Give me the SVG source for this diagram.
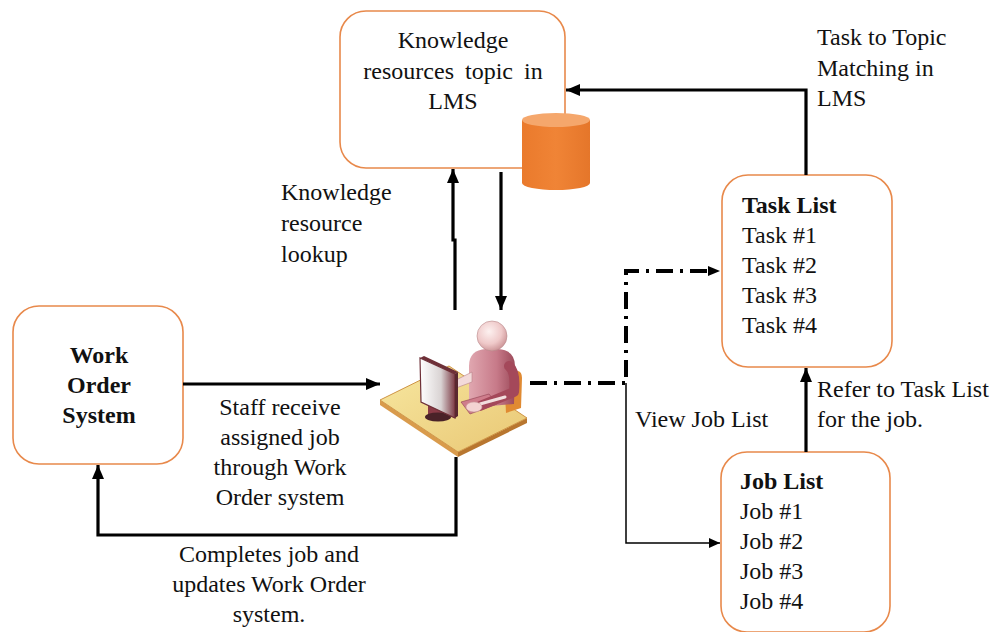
<svg xmlns="http://www.w3.org/2000/svg" width="1003" height="632" viewBox="0 0 1003 632">
  <style>
    .box { fill: #ffffff; stroke: #e8894b; stroke-width: 1.6; }
    .t { font-family: "Liberation Serif", "Times New Roman", serif; font-size: 24px; fill: #111111; }
    .b { font-weight: bold; }
    .mid { text-anchor: middle; }
    .conn { fill: none; stroke: #000000; stroke-width: 3.2; }
    .thin { fill: none; stroke: #000000; stroke-width: 1.5; }
    .dashdot { fill: none; stroke: #000000; stroke-width: 4; stroke-dasharray: 17 7 3 7; }
  </style>
  <defs>
    <marker id="arrow" markerUnits="userSpaceOnUse" markerWidth="14" markerHeight="12" viewBox="0 0 14 12" refX="14" refY="6" orient="auto">
      <path d="M0,0 L14,6 L0,12 Z" fill="#000000"/>
    </marker>
    <marker id="arrowSmall" markerUnits="userSpaceOnUse" markerWidth="11" markerHeight="10" viewBox="0 0 11 10" refX="11" refY="5" orient="auto">
      <path d="M0,0 L11,5 L0,10 Z" fill="#000000"/>
    </marker>
    <linearGradient id="cylBody" x1="0" y1="0" x2="1" y2="0">
      <stop offset="0" stop-color="#ea7a2c"/>
      <stop offset="0.5" stop-color="#f08436"/>
      <stop offset="1" stop-color="#e5762a"/>
    </linearGradient>
    <linearGradient id="deskTop" x1="0" y1="0" x2="1" y2="1">
      <stop offset="0" stop-color="#f7e7a0"/>
      <stop offset="1" stop-color="#e9c774"/>
    </linearGradient>
    <radialGradient id="headFill" cx="0.4" cy="0.35" r="0.7">
      <stop offset="0" stop-color="#fdf1f0"/>
      <stop offset="0.6" stop-color="#efc9c9"/>
      <stop offset="1" stop-color="#c98f92"/>
    </radialGradient>
    <linearGradient id="torsoFill" x1="0" y1="0" x2="1" y2="0">
      <stop offset="0" stop-color="#e0a7b0"/>
      <stop offset="0.6" stop-color="#c77a89"/>
      <stop offset="1" stop-color="#9c4a5a"/>
    </linearGradient>
    <linearGradient id="screenFill" x1="0" y1="0" x2="1" y2="0">
      <stop offset="0" stop-color="#ffffff"/>
      <stop offset="0.6" stop-color="#d9d3d3"/>
      <stop offset="1" stop-color="#7d3b45"/>
    </linearGradient>
  </defs>

  <!-- LMS knowledge resources node with database cylinder -->
  <g id="lms">
    <rect class="box" x="340" y="11" width="225" height="157" rx="26" ry="26"/>
    <text class="t mid" x="453" y="48">Knowledge</text>
    <text class="t mid" x="453" y="79" word-spacing="5">resources topic in</text>
    <text class="t mid" x="453" y="109">LMS</text>
    <g id="lms-db">
      <path d="M522,120 V183 A34,7 0 0 0 590,183 V120 Z" fill="url(#cylBody)"/>
      <ellipse cx="556" cy="120" rx="34" ry="7" fill="#f5a76c"/>
    </g>
  </g>

  <!-- Work Order System node -->
  <g id="work-order">
    <rect class="box" x="13" y="306" width="170" height="158" rx="26" ry="26"/>
    <text class="t b mid" x="99" y="363">Work</text>
    <text class="t b mid" x="99" y="393">Order</text>
    <text class="t b mid" x="99" y="423">System</text>
  </g>

  <!-- Task List node -->
  <g id="task-list">
    <rect class="box" x="722" y="175" width="170" height="192" rx="26" ry="26"/>
    <text class="t b" x="742" y="213">Task List</text>
    <text class="t" x="742" y="243">Task #1</text>
    <text class="t" x="742" y="273">Task #2</text>
    <text class="t" x="742" y="303">Task #3</text>
    <text class="t" x="742" y="333">Task #4</text>
  </g>

  <!-- Job List node -->
  <g id="job-list">
    <rect class="box" x="721" y="452" width="169" height="180" rx="26" ry="26"/>
    <text class="t b" x="740" y="489">Job List</text>
    <text class="t" x="740" y="519">Job #1</text>
    <text class="t" x="740" y="549">Job #2</text>
    <text class="t" x="740" y="579">Job #3</text>
    <text class="t" x="740" y="609">Job #4</text>
  </g>

  <!-- Staff member at workstation -->
  <g id="staff">
    <!-- desk -->
    <polygon points="380,400 458,452 458,457 380,405" fill="#d99b4c"/>
    <polygon points="458,452 527,418 527,423 458,457" fill="#b8762f"/>
    <polygon points="380,400 449,366 527,418 458,452" fill="url(#deskTop)" stroke="#cf9444" stroke-width="1"/>
    <!-- chair back -->
    <path d="M504,376 L518,371 Q522,372 522,378 L521,408 L506,413 Z" fill="#e08a32"/>
    <!-- torso -->
    <path d="M469,408 L469,366 Q469,350 486,349 L498,349 Q515,350 515,366 L514,404 Z" fill="url(#torsoFill)"/>
    <!-- far arm reaching to the desk -->
    <polygon points="472,372 456,380 456,388 472,382" fill="#f3dada" stroke="#b98088" stroke-width="0.6"/>
    <!-- keyboard -->
    <polygon points="461,402 489,394 497,404 470,414" fill="#cf7d8c" stroke="#8f4050" stroke-width="0.6"/>
    <!-- near arm -->
    <path d="M509,366 Q516,372 514,392 L480,406" fill="none" stroke="#a4485a" stroke-width="10" stroke-linecap="round" stroke-linejoin="round"/>
    <path d="M505,397 L480,404" fill="none" stroke="#f1dede" stroke-width="3" stroke-linecap="round"/>
    <!-- hand -->
    <ellipse cx="474" cy="407" rx="8" ry="5" fill="#f4d3d2" stroke="#c9999b" stroke-width="0.6"/>
    <!-- head -->
    <circle cx="492" cy="336" r="15" fill="url(#headFill)" stroke="#b98a8c" stroke-width="0.6"/>
    <!-- monitor stand -->
    <path d="M428,398 Q433,392 442,396 L446,418 Q438,422 428,416 Z" fill="#8a3a46"/>
    <ellipse cx="438" cy="417" rx="13" ry="4.5" fill="#4a2228"/>
    <!-- monitor -->
    <polygon points="420,358 424,356 458,372 455,374" fill="#6e3038"/>
    <polygon points="420,358 455,374 455,418 421,402" fill="url(#screenFill)" stroke="#6e3038" stroke-width="1.2"/>
    <polygon points="455,374 458,372 458,416 455,418" fill="#5a2830"/>
  </g>

  <!-- Connectors -->
  <g id="connectors">
    <path class="conn" d="M183,384 H380" marker-end="url(#arrow)"/>
    <path class="conn" d="M456,457 V535 H98 V465" marker-end="url(#arrow)"/>
    <path class="conn" d="M455,310 V240 H453 V169" marker-end="url(#arrow)"/>
    <path class="conn" d="M501,172 V310" marker-end="url(#arrow)"/>
    <path class="conn" d="M806,175 V90 H566" marker-end="url(#arrow)"/>
    <path class="dashdot" d="M530,383 H626 V271 H710"/>
    <path d="M708,266 L720,271 L708,276 Z" fill="#000000"/>
    <path class="thin" d="M626,383 V543 H720" marker-end="url(#arrowSmall)"/>
    <path class="conn" d="M806,452 V368" marker-end="url(#arrow)"/>
  </g>

  <!-- Connector labels -->
  <g id="labels">
    <text class="t" x="281" y="200">Knowledge</text>
    <text class="t" x="281" y="231">resource</text>
    <text class="t" x="281" y="262">lookup</text>

    <text class="t" x="817" y="45">Task to Topic</text>
    <text class="t" x="817" y="76">Matching in</text>
    <text class="t" x="817" y="106">LMS</text>

    <text class="t mid" x="280" y="415">Staff receive</text>
    <text class="t mid" x="280" y="445">assigned job</text>
    <text class="t mid" x="280" y="475">through Work</text>
    <text class="t mid" x="280" y="505">Order system</text>

    <text class="t mid" x="269" y="562">Completes job and</text>
    <text class="t mid" x="269" y="592">updates Work Order</text>
    <text class="t mid" x="269" y="622">system.</text>

    <text class="t" x="635" y="427">View Job List</text>

    <text class="t" x="817" y="397">Refer to Task List</text>
    <text class="t" x="817" y="427">for the job.</text>
  </g>
</svg>
